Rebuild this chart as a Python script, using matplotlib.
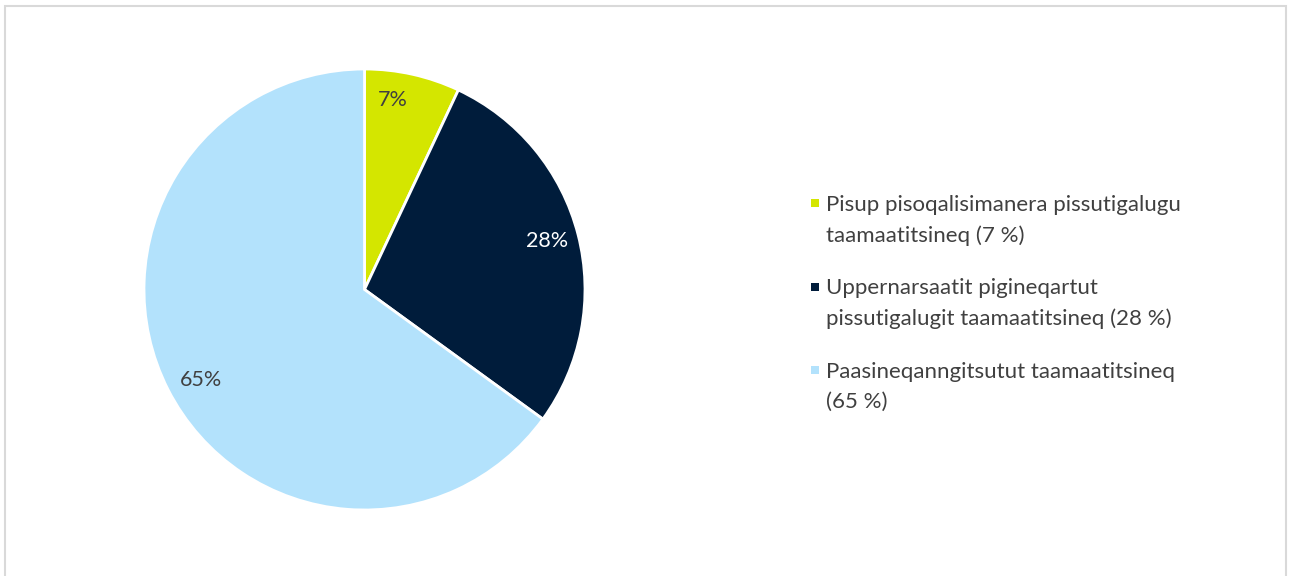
import matplotlib
matplotlib.use("Agg")
import matplotlib.pyplot as plt
from matplotlib.patches import Rectangle
import numpy as np

# slice data (share of total, percent)
categories = [
    "Pisup pisoqalisimanera pissutigalugu\ntaamaatitsineq (7 %)",
    "Uppernarsaatit pigineqartut\npissutigalugit taamaatitsineq (28 %)",
    "Paasineqanngitsutut taamaatitsineq\n(65 %)",
]
values = [7, 28, 65]
pct_labels = ["7%", "28%", "65%"]

colors = ["#D4E600", "#001C3B", "#B3E2FC"]
label_colors = ["#404040", "#FFFFFF", "#404040"]
# Excel "best fit" nudges the label angle a little (degrees)
label_angle_shift = [4.2, 0.4, 2.0]
label_radius = [0.87, 0.855, 0.85]

plt.rcParams["font.family"] = ["Lato", "DejaVu Sans"]

W, H = 1290, 576
fig = plt.figure(figsize=(W / 100, H / 100), dpi=100)

# chart-area frame, open at the bottom (cropped screenshot)
fig.patches.append(Rectangle((5 / W, -0.1), 1281 / W, (H - 6) / H + 0.1,
                             transform=fig.transFigure, fill=False,
                             edgecolor="#D9D9D9", linewidth=1.5))

ax = fig.add_axes([144 / W, 66 / H, 441 / W, 441 / H])
wedges, _ = ax.pie(values, colors=colors, startangle=90, counterclock=False,
                   radius=1.0, wedgeprops=dict(edgecolor="white", linewidth=2))
ax.set_xlim(-1, 1)
ax.set_ylim(-1, 1)
ax.set_aspect("equal")
ax.axis("off")

for w, txt, col, shift, r in zip(wedges, pct_labels, label_colors, label_angle_shift, label_radius):
    ang = np.deg2rad((w.theta1 + w.theta2) / 2 + shift)
    ax.text(r * np.cos(ang), r * np.sin(ang), txt, color=col, fontsize=15.5,
            ha="center", va="center")

# legend, Excel style: marker level with the first line of each entry
leg_x, leg_y0, leg_step = 826, 203, 83.5
for i, (lab, c) in enumerate(zip(categories, colors)):
    yc = leg_y0 + i * leg_step
    fig.patches.append(Rectangle(((leg_x - 15) / W, 1 - (yc + 4) / H), 8 / W, 8 / H,
                                 transform=fig.transFigure, facecolor=c,
                                 edgecolor="none"))
    fig.text(leg_x / W, 1 - (yc - 8) / H, lab, fontsize=16, color="#404040",
             ha="left", va="top", linespacing=1.62)

fig.savefig("out.png", dpi=100)
